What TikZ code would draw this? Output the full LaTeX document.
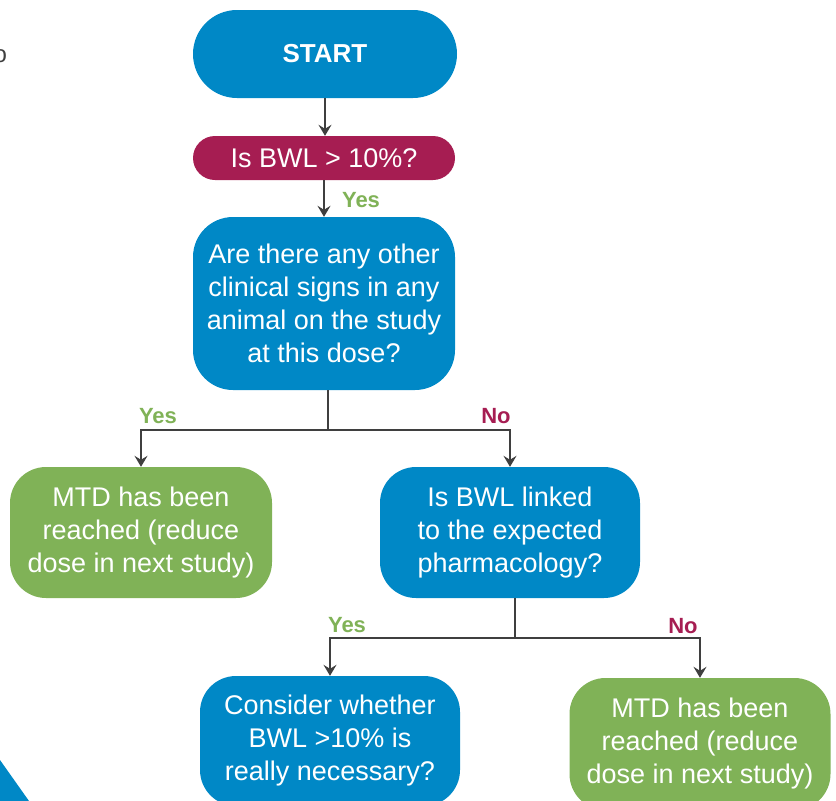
\documentclass[tikz,border=0pt]{standalone}
\usepackage{fontspec}
\setmainfont{Liberation Sans}
\usetikzlibrary{arrows.meta}

\definecolor{boxblue}{HTML}{0088C6}
\definecolor{boxgreen}{HTML}{80B257}
\definecolor{boxred}{HTML}{A61D52}
\definecolor{arrowgray}{HTML}{3F3F3F}

\tikzset{
  box/.style={text=white, align=center, inner sep=0pt, font=\fontsize{27}{33}\selectfont},
  bluebox/.style={box, fill=boxblue},
  greenbox/.style={box, fill=boxgreen},
  flow/.style={arrowgray, line width=2.6pt, -{Stealth[length=11pt,width=13pt,inset=4pt]}},
  yes/.style={text=boxgreen, font=\fontsize{22}{22}\selectfont\bfseries},
  no/.style={text=boxred, font=\fontsize{22}{22}\selectfont\bfseries}
}

\begin{document}
\begin{tikzpicture}[x=1pt, y=-1pt]
  \useasboundingbox (0,0) rectangle (836,801);
  \clip (0,0) rectangle (836,801);
  % edge pieces
  \node[anchor=west, text=arrowgray, font=\fontsize{24}{24}\selectfont] at (-10,56) {o};
  \fill[boxblue] (0,760) -- (29,801) -- (0,801) -- cycle;

  % boxes
  \node[bluebox, minimum width=264pt, minimum height=88pt, rounded corners=44pt,
        font=\fontsize{26}{33}\selectfont\bfseries] (start) at (325,54) {START};
  \node[box, fill=boxred, minimum width=262pt, minimum height=44pt, rounded corners=22pt] (bwl) at (324,158) {Is BWL > 10\%?};
  \node[bluebox, minimum width=262pt, minimum height=173pt, rounded corners=40pt] (signs) at (324,303.5)
    {Are there any other\\clinical signs in any\\animal on the study\\at this dose?};
  \node[greenbox, minimum width=262pt, minimum height=131pt, rounded corners=36pt] (mtd1) at (141,532.5)
    {MTD has been\\reached (reduce\\dose in next study)};
  \node[bluebox, minimum width=260pt, minimum height=131pt, rounded corners=36pt] (linked) at (510,532.5)
    {Is BWL linked\\to the expected\\pharmacology?};
  \node[bluebox, minimum width=260pt, minimum height=130pt, rounded corners=36pt] (consider) at (330,741)
    {Consider whether\\BWL >10\% is\\really necessary?};
  \node[greenbox, minimum width=261pt, minimum height=132pt, rounded corners=36pt] (mtd2) at (700,744)
    {MTD has been\\reached (reduce\\dose in next study)};

  % connectors
  \draw[flow] (start.south) -- (start.south |- bwl.north);
  \draw[flow] (bwl.south) -- (bwl.south |- signs.north);
  \node[yes] (y1) at (361,200) {Yes};

  \coordinate (split1) at (328,430);
  \draw[arrowgray, line width=2.6pt] (split1 |- signs.south) -- (split1);
  \draw[flow] (split1) -| (mtd1.north);
  \draw[flow] (split1) -| (linked.north);
  \node[yes] (y2) at (158,416) {Yes};
  \node[no] (n2) at (496,416) {No};

  \coordinate (split2) at (515,638);
  \draw[arrowgray, line width=2.6pt] (split2 |- linked.south) -- (split2);
  \draw[flow] (split2) -| (consider.north);
  \draw[flow] (split2) -| (mtd2.north);
  \node[yes] (y3) at (347,625) {Yes};
  \node[no] (n3) at (683,626) {No};
\end{tikzpicture}
\end{document}
